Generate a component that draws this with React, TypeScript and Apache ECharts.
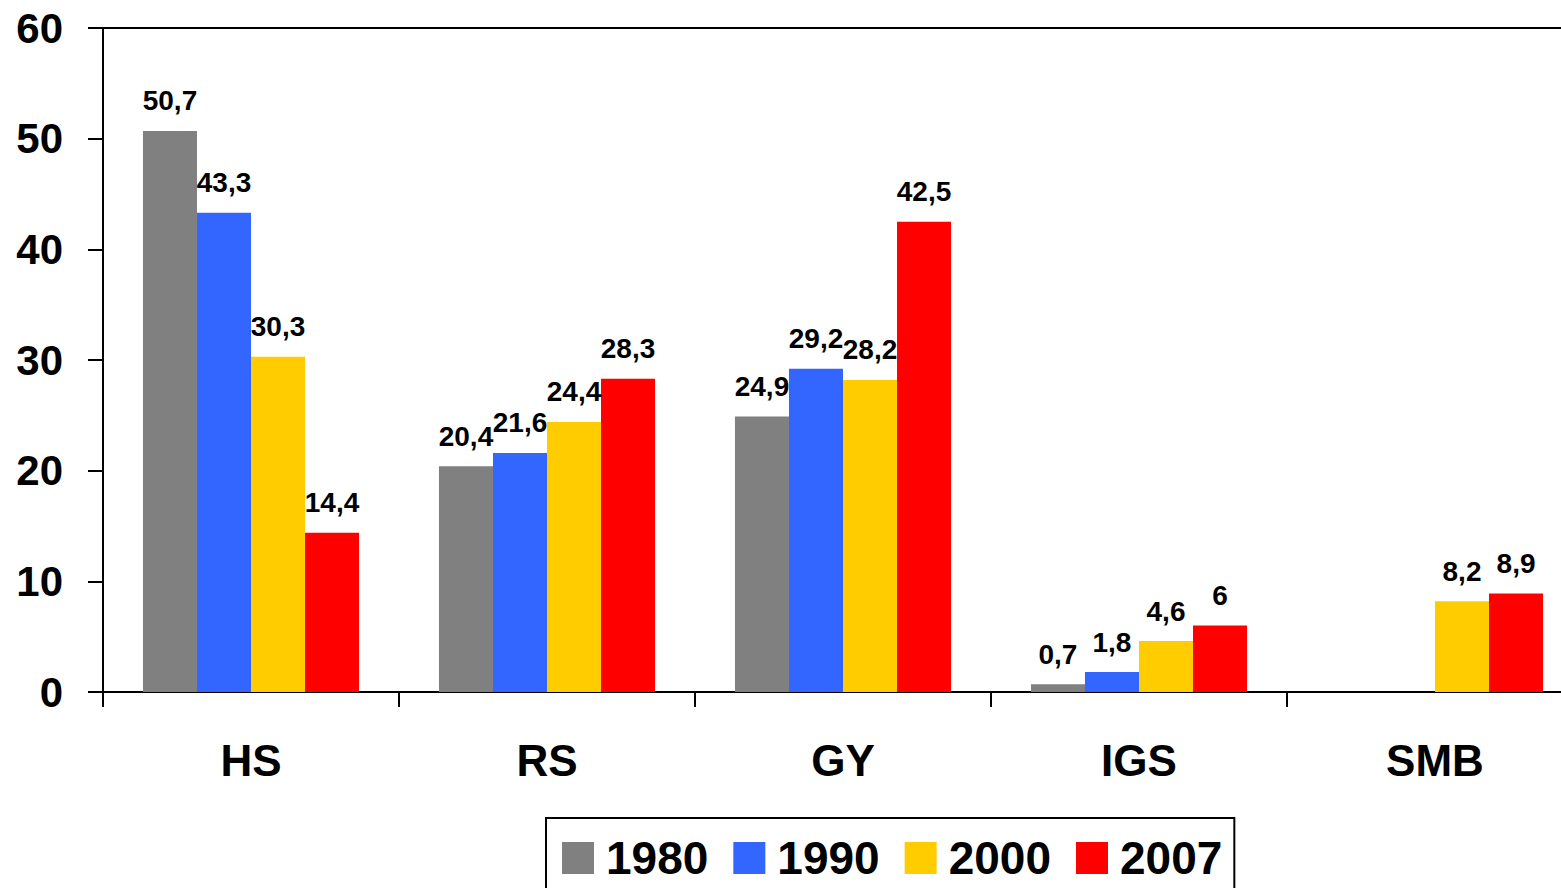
import React, { useEffect, useRef } from "react";
import * as echarts from "echarts";

const categories = ["HS", "RS", "GY", "IGS", "SMB"];
const seriesNames = ["1980", "1990", "2000", "2007"];
const values1980: (number | null)[] = [50.7, 20.4, 24.9, 0.7, null];
const values1990: (number | null)[] = [43.3, 21.6, 29.2, 1.8, null];
const values2000: (number | null)[] = [30.3, 24.4, 28.2, 4.6, 8.2];
const values2007: (number | null)[] = [14.4, 28.3, 42.5, 6, 8.9];
const colors = ["#808080", "#3366FF", "#FFCC00", "#FF0000"];
const yTicks = { min: 0, max: 60, interval: 10 };

const FONT = "'Liberation Sans', Arial, Helvetica, sans-serif";

export default function App() {
  const ref = useRef<HTMLDivElement>(null);
  useEffect(() => {
    document.body.style.margin = "0";
    document.body.style.overflow = "hidden";
    document.documentElement.style.overflow = "hidden";
    if (!ref.current) return;
    const chart = echarts.init(ref.current, null, { renderer: "svg" });
    const all = [values1980, values1990, values2000, values2007];
    const series: any[] = all.map((vals, i) => ({
      name: seriesNames[i],
      type: "bar",
      data: vals.map((v) => (v === null ? "-" : v)),
      barGap: "0%",
      barCategoryGap: "27%",
      itemStyle: { color: colors[i] },
      label: {
        show: true,
        position: "top",
        distance: 16,
        color: "#000",
        fontFamily: FONT,
        fontWeight: "bold",
        fontSize: 28,
        formatter: (p: any) => String(p.value).replace(".", ","),
      },
      ...(i === 0
        ? {
            markLine: {
              silent: true,
              symbol: ["none", "none"],
              label: { show: false },
              lineStyle: { color: "#000", type: "solid", width: 2 },
              data: [{ yAxis: yTicks.max }],
            },
          }
        : {}),
    }));
    chart.setOption({
      animation: false,
      backgroundColor: "#fff",
      grid: { left: 103, top: 28, bottom: 196, right: 0, containLabel: false },
      legend: {
        left: 546,
        top: 818,
        orient: "horizontal",
        data: seriesNames,
        icon: "rect",
        itemWidth: 32,
        itemHeight: 32,
        itemGap: 25,
        padding: [14, 12, 14, 16],
        borderColor: "#000",
        borderWidth: 2,
        borderRadius: 0,
        textStyle: {
          color: "#000",
          fontFamily: FONT,
          fontWeight: "bold",
          fontSize: 46,
          lineHeight: 52,
          padding: [0, 0, 0, 7],
        },
      },
      xAxis: {
        type: "category",
        data: categories,
        axisLine: { show: true, lineStyle: { color: "#000", width: 2 } },
        axisTick: { show: true, length: 15, lineStyle: { color: "#000", width: 2 } },
        axisLabel: {
          color: "#000",
          fontFamily: FONT,
          fontWeight: "bold",
          fontSize: 44,
          margin: 46,
        },
        splitLine: { show: false },
      },
      yAxis: {
        type: "value",
        min: yTicks.min,
        max: yTicks.max,
        interval: yTicks.interval,
        axisLine: { show: true, lineStyle: { color: "#000", width: 2 } },
        axisTick: { show: true, length: 15, lineStyle: { color: "#000", width: 2 } },
        axisLabel: {
          color: "#000",
          fontFamily: FONT,
          fontWeight: "bold",
          fontSize: 42,
          margin: 40,
        },
        splitLine: { show: false },
      },
      series,
    });
    return () => chart.dispose();
  }, []);
  return <div ref={ref} style={{ width: 1583, height: 888 }} />;
}
